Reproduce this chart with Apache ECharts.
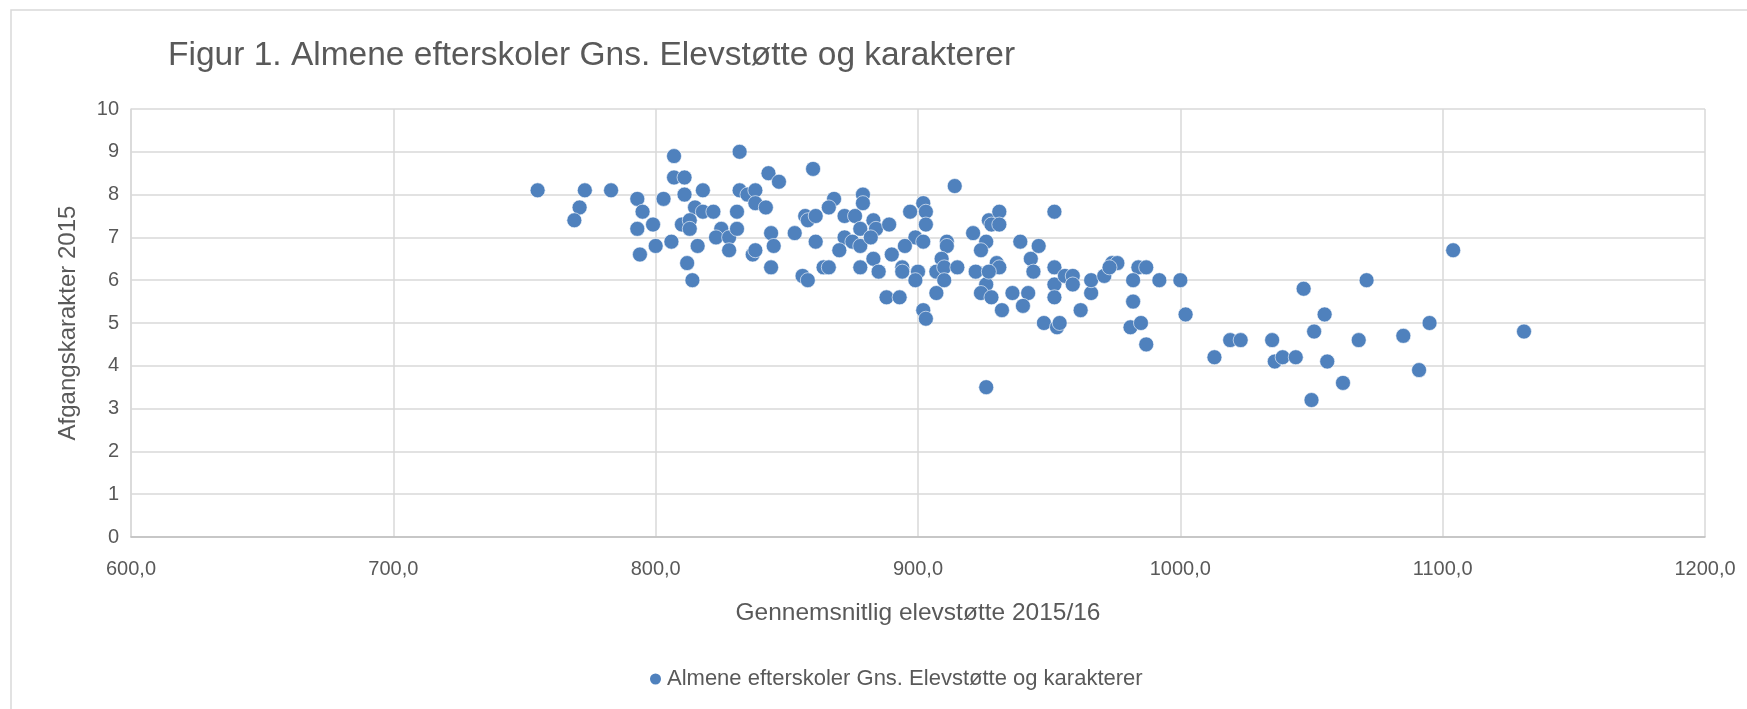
<!DOCTYPE html>
<html>
<head>
<meta charset="utf-8">
<title>Figur 1</title>
<script src="https://cdn.jsdelivr.net/npm/echarts@6/dist/echarts.min.js"></script>
<style>
  html, body { margin: 0; padding: 0; background: #fff; }
  #chart { width: 1747px; height: 709px; }
</style>
</head>
<body>
<div id="chart"></div>
<script>
// Gennemsnitlig elevstøtte 2015/16 (x) og afgangskarakter 2015 (y)
const elevstotte = [
  755, 773, 771, 769, 783, 793, 795, 793, 794, 799, 803, 800, 806, 807, 807, 811, 811, 818, 815, 810,
  813, 813, 818, 822, 816, 812, 814, 831, 832, 832, 835, 838, 838, 842, 843, 847, 825, 823, 828, 831,
  828, 844, 845, 837, 838, 844, 860, 853, 857, 858, 861, 861, 856, 858, 864, 866, 868, 866, 872, 876,
  879, 879, 883, 878, 884, 872, 875, 878, 882, 870, 883, 878, 885, 889, 890, 888, 893, 894, 894, 897,
  899, 895, 902, 903, 903, 902, 900, 899, 907, 902, 903,
  914, 911, 911, 909, 907, 910, 915, 910, 921, 926, 924, 922, 926, 924, 928, 927, 928, 931, 931, 930,
  931, 927, 932, 926, 936, 939, 942, 940, 943, 944, 946, 948, 953, 954, 952, 952, 952, 952, 956, 959,
  959, 962, 966, 966, 971, 974, 976, 973, 984, 987, 982, 982, 981, 985, 987, 992, 1000, 1002, 1013, 1019,
  1023, 1035, 1036, 1039, 1044, 1047, 1055, 1051, 1056, 1050, 1062, 1071, 1068, 1085, 1095, 1091, 1104, 1131
];
const karakter = [
  8.1, 8.1, 7.7, 7.4, 8.1, 7.9, 7.6, 7.2, 6.6, 7.3, 7.9, 6.8, 6.9, 8.9, 8.4, 8.4, 8.0, 8.1, 7.7, 7.3,
  7.4, 7.2, 7.6, 7.6, 6.8, 6.4, 6.0, 7.6, 9.0, 8.1, 8.0, 8.1, 7.8, 7.7, 8.5, 8.3, 7.2, 7.0, 7.0, 7.2,
  6.7, 7.1, 6.8, 6.6, 6.7, 6.3, 8.6, 7.1, 7.5, 7.4, 7.5, 6.9, 6.1, 6.0, 6.3, 6.3, 7.9, 7.7, 7.5, 7.5,
  8.0, 7.8, 7.4, 7.2, 7.2, 7.0, 6.9, 6.8, 7.0, 6.7, 6.5, 6.3, 6.2, 7.3, 6.6, 5.6, 5.6, 6.3, 6.2, 7.6,
  7.0, 6.8, 7.8, 7.6, 7.3, 6.9, 6.2, 6.0, 5.7, 5.3, 5.1,
  8.2, 6.9, 6.8, 6.5, 6.2, 6.3, 6.3, 6.0, 7.1, 6.9, 6.7, 6.2, 5.9, 5.7, 5.6, 7.4, 7.3, 7.6, 7.3, 6.4,
  6.3, 6.2, 5.3, 3.5, 5.7, 6.9, 5.7, 5.4, 6.5, 6.2, 6.8, 5.0, 4.9, 5.0, 7.6, 6.3, 5.9, 5.6, 6.1, 6.1,
  5.9, 5.3, 5.7, 6.0, 6.1, 6.4, 6.4, 6.3, 6.3, 6.3, 6.0, 5.5, 4.9, 5.0, 4.5, 6.0, 6.0, 5.2, 4.2, 4.6,
  4.6, 4.6, 4.1, 4.2, 4.2, 5.8, 5.2, 4.8, 4.1, 3.2, 3.6, 6.0, 4.6, 4.7, 5.0, 3.9, 6.7, 4.8
];

const TITLE = 'Figur 1. Almene efterskoler Gns. Elevstøtte og karakterer';
const SERIES_NAME = 'Almene efterskoler Gns. Elevstøtte og karakterer';
const X_NAME = 'Gennemsnitlig elevstøtte 2015/16';
const Y_NAME = 'Afgangskarakter 2015';

const FONT = '"Liberation Sans", "DejaVu Sans", sans-serif';
const TEXT = '#595959';
const GRID = '#d9d9d9';
const DOT = '#4f81bd';

const points = elevstotte.map(function (x, i) { return [x, karakter[i]]; });

const chart = echarts.init(document.getElementById('chart'));
chart.setOption({
  animation: false,
  textStyle: { fontFamily: FONT, color: TEXT },
  graphic: [{
    // ydre ramme om diagramområdet
    type: 'rect',
    shape: { x: 11, y: 10, width: 1800, height: 800 },
    style: { fill: 'none', stroke: GRID, lineWidth: 1.5 },
    silent: true
  }],
  title: {
    text: TITLE,
    left: 168,
    top: 39,
    padding: 0,
    textStyle: { fontFamily: FONT, fontSize: 33.5, fontWeight: 'normal', color: TEXT }
  },
  legend: {
    data: [SERIES_NAME],
    left: 643,
    top: 663,
    icon: 'circle',
    itemWidth: 13,
    itemHeight: 13,
    itemGap: 4,
    textStyle: { fontFamily: FONT, fontSize: 22, color: TEXT }
  },
  grid: { left: 131, right: 42, top: 109, bottom: 172 },
  xAxis: {
    type: 'value',
    min: 600,
    max: 1200,
    interval: 100,
    name: X_NAME,
    nameLocation: 'middle',
    nameGap: 64,
    nameTextStyle: { fontFamily: FONT, fontSize: 24.5, color: TEXT },
    axisLine: { show: true, lineStyle: { color: '#bfbfbf', width: 1.5 } },
    axisTick: { show: false },
    axisLabel: {
      margin: 22,
      fontSize: 20,
      color: TEXT,
      formatter: function (v) { return v.toFixed(1).replace('.', ','); }
    },
    splitLine: { show: true, lineStyle: { color: GRID, width: 1.5 } }
  },
  yAxis: {
    type: 'value',
    min: 0,
    max: 10,
    interval: 1,
    name: Y_NAME,
    nameLocation: 'middle',
    nameGap: 51,
    nameTextStyle: { fontFamily: FONT, fontSize: 24, color: TEXT },
    axisLine: { show: true, lineStyle: { color: GRID, width: 1.5 } },
    axisTick: { show: false },
    axisLabel: { margin: 12, fontSize: 20, color: TEXT },
    splitLine: { show: true, lineStyle: { color: GRID, width: 1.5 } }
  },
  series: [{
    name: SERIES_NAME,
    type: 'scatter',
    data: points,
    symbol: 'circle',
    symbolSize: 15,
    itemStyle: { color: DOT, borderColor: '#ffffff', borderWidth: 0.6, opacity: 1 }
  }]
});
</script>
</body>
</html>
